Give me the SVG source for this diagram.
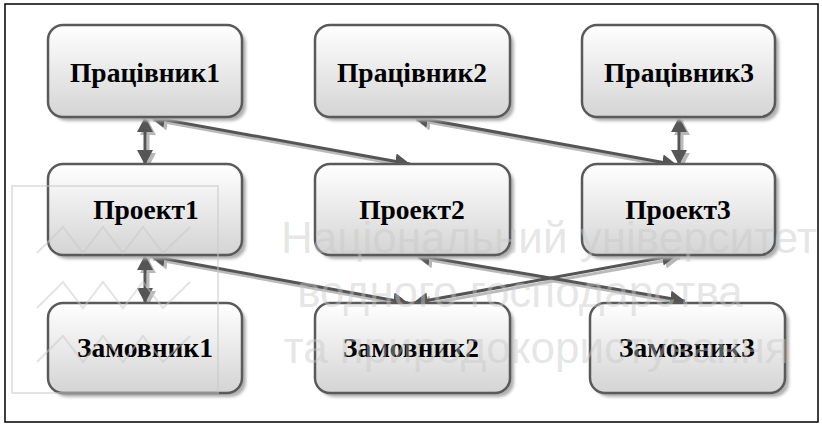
<svg xmlns="http://www.w3.org/2000/svg" width="822" height="425" viewBox="0 0 822 425">
<defs>
<linearGradient id="g" x1="0" y1="0" x2="0" y2="1">
<stop offset="0" stop-color="#ffffff"/>
<stop offset="1" stop-color="#d4d4d4"/>
</linearGradient>
<filter id="blur" x="-10%" y="-10%" width="120%" height="130%"><feGaussianBlur stdDeviation="1.5"/></filter>
<marker id="a" markerUnits="userSpaceOnUse" markerWidth="17" markerHeight="17" refX="15" refY="8" orient="auto-start-reverse" viewBox="0 0 17 17">
<path d="M0,0 L15,8 L0,16 z" fill="#555555"/>
</marker>
<marker id="as" markerUnits="userSpaceOnUse" markerWidth="17" markerHeight="17" refX="15" refY="8" orient="auto-start-reverse" viewBox="0 0 17 17">
<path d="M0,0 L15,8 L0,16 z" fill="#b8b8b8"/>
</marker>
</defs>
<style>
.box{fill:url(#g);stroke:#5a5a5a;stroke-width:2.5}
.sh{fill:#b0b0b0;filter:url(#blur)}
.lbl{font-family:"Liberation Serif","Times New Roman",serif;font-weight:bold;font-size:27.5px;fill:#000;text-anchor:middle}
.c{stroke:#555555;stroke-width:3;fill:none;marker-start:url(#a);marker-end:url(#a)}
.cs{stroke:#bababa;stroke-width:3;fill:none;marker-start:url(#as);marker-end:url(#as)}
.wm{font-family:"Liberation Sans",Arial,sans-serif;font-size:44px;fill:#c8c8c8;fill-opacity:0.45;text-anchor:middle}
.wl{stroke:#c8c8c8;stroke-opacity:0.5;stroke-width:2;fill:none}
</style>
<rect x="0" y="0" width="822" height="425" fill="#ffffff"/>
<rect x="5" y="4" width="813" height="418" fill="none" stroke="#000" stroke-width="1.5"/>

<g id="connectors">
<g transform="translate(3,3)">
<line class="cs" x1="145" y1="117" x2="145" y2="165"/>
<line class="cs" x1="150" y1="117" x2="410" y2="164"/>
<line class="cs" x1="413" y1="117" x2="677" y2="165"/>
<line class="cs" x1="679" y1="117" x2="679" y2="165"/>
<line class="cs" x1="145" y1="255" x2="145" y2="303"/>
<line class="cs" x1="150" y1="256" x2="408" y2="303"/>
<line class="cs" x1="677" y1="255" x2="413" y2="303"/>
<line class="cs" x1="415" y1="255" x2="685" y2="301"/>
</g>
<line class="c" x1="145" y1="117" x2="145" y2="165"/>
<line class="c" x1="150" y1="117" x2="410" y2="164"/>
<line class="c" x1="413" y1="117" x2="677" y2="165"/>
<line class="c" x1="679" y1="117" x2="679" y2="165"/>
<line class="c" x1="145" y1="255" x2="145" y2="303"/>
<line class="c" x1="150" y1="256" x2="408" y2="303"/>
<line class="c" x1="677" y1="255" x2="413" y2="303"/>
<line class="c" x1="415" y1="255" x2="685" y2="301"/>
</g>

<g id="n-pr1"><rect class="sh" x="52" y="29" width="194" height="92" rx="15"/><rect class="box" x="48" y="25" width="194" height="92" rx="15"/><text class="lbl" x="145" y="82">Працівник1</text></g>
<g id="n-pr2"><rect class="sh" x="319" y="29" width="195" height="92" rx="15"/><rect class="box" x="315" y="25" width="195" height="92" rx="15"/><text class="lbl" x="412" y="82">Працівник2</text></g>
<g id="n-pr3"><rect class="sh" x="586" y="29" width="193" height="92" rx="15"/><rect class="box" x="582" y="25" width="193" height="92" rx="15"/><text class="lbl" x="679" y="82">Працівник3</text></g>

<g id="n-p1"><rect class="sh" x="52" y="168" width="194" height="91" rx="15"/><rect class="box" x="48" y="164" width="194" height="91" rx="15"/><text class="lbl" x="146" y="219">Проект1</text></g>
<g id="n-p2"><rect class="sh" x="319" y="168" width="195" height="91" rx="15"/><rect class="box" x="315" y="164" width="195" height="91" rx="15"/><text class="lbl" x="412" y="219">Проект2</text></g>
<g id="n-p3"><rect class="sh" x="586" y="168" width="193" height="91" rx="15"/><rect class="box" x="582" y="164" width="193" height="91" rx="15"/><text class="lbl" x="678" y="219">Проект3</text></g>

<g id="n-z1"><rect class="sh" x="52" y="307" width="194" height="90" rx="15"/><rect class="box" x="48" y="303" width="194" height="90" rx="15"/><text class="lbl" x="145" y="357">Замовник1</text></g>
<g id="n-z2"><rect class="sh" x="319" y="307" width="195" height="90" rx="15"/><rect class="box" x="315" y="303" width="195" height="90" rx="15"/><text class="lbl" x="411" y="357">Замовник2</text></g>
<g id="n-z3"><rect class="sh" x="594" y="307" width="195" height="90" rx="15"/><rect class="box" x="590" y="303" width="195" height="90" rx="15"/><text class="lbl" x="687" y="357">Замовник3</text></g>

<g id="watermark">
<rect class="wl" x="12" y="186" width="206" height="207"/>
<polyline class="wl" points="37,253 63,227 83,253 103,227 123,253 143,227 163,253 190,227"/>
<polyline class="wl" points="37,308 63,282 83,308 103,282 123,308 143,282 163,308 190,282"/>
<polyline class="wl" points="37,362 63,336 83,362 103,336 123,362 143,336 163,362 190,336"/>
<text class="wm" x="549" y="253">Національний університет</text>
<text class="wm" x="520" y="307">водного господарства</text>
<text class="wm" x="536" y="363">та природокористування</text>
</g>
</svg>
